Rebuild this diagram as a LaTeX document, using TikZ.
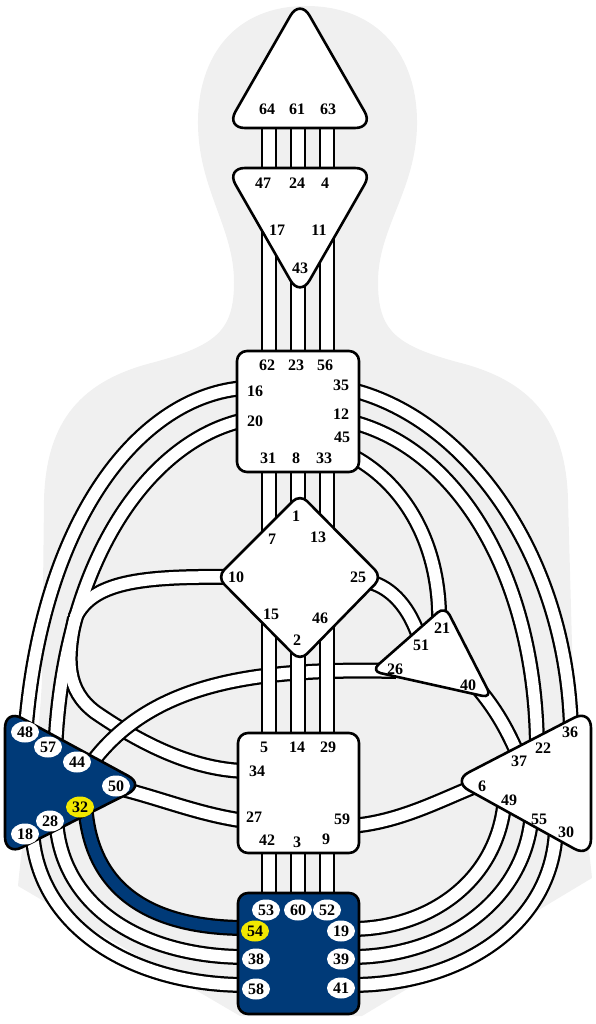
\documentclass[tikz,border=0pt]{standalone}
\usepackage{fontspec}
\setmainfont{Liberation Serif}
\usetikzlibrary{shapes.geometric}
\definecolor{bodygrey}{RGB}{240,240,240}
\definecolor{defblue}{RGB}{0,58,120}
\definecolor{gateyellow}{RGB}{242,232,0}
\tikzset{
  centre/.style={draw=black, line width=2.6pt, fill=white, rounded corners=10pt, line join=round},
  defcentre/.style={centre, fill=defblue},
  tricentre/.style={centre, rounded corners=19pt},
  chanedge/.style={draw=black, line width=16pt},
  chanfill/.style={draw=white, line width=11.5pt},
  chan/.style={chanfill, preaction={chanedge}},
  defchan/.style={draw=defblue, line width=11.5pt, preaction={chanedge}},
  gate/.style={font=\fontsize{16}{16}\selectfont\bfseries, inner sep=0pt},
  gateon/.style={gate, ellipse, fill=white, minimum width=28pt, minimum height=21pt},
  gateyel/.style={gateon, fill=gateyellow}
}
\begin{document}
\begin{tikzpicture}[x=1pt,y=-1pt]
\useasboundingbox (0,0) rectangle (596,1024);

% body
\fill[bodygrey] (306,6) .. controls (378,6) and (418,55) .. (417,125)
  .. controls (416,190) and (378,228) .. (378,282)
  .. controls (378,330) and (395,345) .. (457,362)
  .. controls (530,380) and (566,420) .. (568,500)
  -- (573,680) .. controls (576,760) and (586,820) .. (592,878)
  -- (362,1016) -- (240,1016) -- (18,886)
  .. controls (24,820) and (38,760) .. (42,680) -- (44,500)
  .. controls (46,420) and (82,380) .. (155,362)
  .. controls (217,345) and (234,330) .. (234,282)
  .. controls (234,228) and (199,190) .. (198,125)
  .. controls (197,55) and (236,6) .. (306,6) -- cycle;

% channel ends
\coordinate (p64) at (269,118); \coordinate (p61) at (298,118); \coordinate (p63) at (327,118);
\coordinate (p47) at (269,178); \coordinate (p24) at (298,178); \coordinate (p4) at (327,178);
\coordinate (p17) at (269,215); \coordinate (p43) at (298,275); \coordinate (p11) at (327,215);
\coordinate (p62) at (269,360); \coordinate (p23) at (298,360); \coordinate (p56) at (327,360);
\coordinate (p31) at (269,463); \coordinate (p8) at (298,463); \coordinate (p33) at (327,463);
\coordinate (p7) at (269,548); \coordinate (p1) at (298,505); \coordinate (p13) at (327,548);
\coordinate (p15) at (269,605); \coordinate (p2) at (298,648); \coordinate (p46) at (327,605);
\coordinate (p5) at (269,742); \coordinate (p14) at (298,742); \coordinate (p29) at (327,742);
\coordinate (p42) at (269,845); \coordinate (p3) at (298,845); \coordinate (p9) at (327,845);
\coordinate (p53) at (269,902); \coordinate (p60) at (298,902); \coordinate (p52) at (327,902);
\coordinate (p16) at (245,388); \coordinate (p20) at (245,420);
\coordinate (p35) at (352,390); \coordinate (p12) at (352,422); \coordinate (p45) at (350,455);
\coordinate (p10) at (230,577); \coordinate (p25) at (370,582);
\coordinate (p21) at (439,628); \coordinate (p51) at (420,640);
\coordinate (p26) at (396,671); \coordinate (p40) at (476,686);
\coordinate (p34) at (246,771); \coordinate (p27) at (246,821); \coordinate (p59) at (351,826);
\coordinate (p36) at (571,732); \coordinate (p22) at (537,752); \coordinate (p37) at (521,762);
\coordinate (p6) at (478,785); \coordinate (p49) at (505,796); \coordinate (p55) at (532,810);
\coordinate (p30) at (556,824);
\coordinate (p48) at (25,738); \coordinate (p57) at (55,754); \coordinate (p44) at (88,768);
\coordinate (p50) at (118,788); \coordinate (p32) at (85,800); \coordinate (p28) at (56,815);
\coordinate (p18) at (32,826);
\coordinate (p54) at (246,928); \coordinate (p38) at (246,957); \coordinate (p58) at (246,985);
\coordinate (p19) at (351,929); \coordinate (p39) at (351,957); \coordinate (p41) at (351,985);
\coordinate (jb) at (75,618);

% left arcs
\draw[chan] (p16) .. controls (140,395) and (40,520) .. (p48);
\draw[chanedge] (p20) .. controls (150,440) and (62,560) .. (p57);
\draw[chanedge] (p10) .. controls (140,576) and (92,582) .. (jb);
\draw[chanedge] (jb) .. controls (66,660) and (66,690) .. (95,712) .. controls (150,750) and (200,770) .. (p34);
\draw[chanfill] (p20) .. controls (150,440) and (62,560) .. (p57);
\draw[chanfill] (p10) .. controls (140,576) and (92,582) .. (jb);
\draw[chanfill] (jb) .. controls (66,660) and (66,690) .. (95,712) .. controls (150,750) and (200,770) .. (p34);
\draw[chan] (p26) .. controls (260,668) and (150,680) .. (p44);
\draw[chan] (p27) .. controls (200,815) and (160,798) .. (p50);

% right arcs
\draw[chan] (p35) .. controls (470,420) and (568,560) .. (p36);
\draw[chan] (p12) .. controls (460,450) and (537,580) .. (p22);
\draw[chan] (p45) .. controls (400,480) and (442,540) .. (p21);
\draw[chan] (p25) .. controls (392,588) and (410,608) .. (p51);
\draw[chan] (p40) .. controls (495,708) and (508,730) .. (p37);
\draw[chan] (p59) .. controls (400,822) and (440,800) .. (p6);

% root arcs
\draw[chan] (p49) .. controls (500,880) and (430,929) .. (p19);
\draw[chan] (p55) .. controls (528,900) and (445,957) .. (p39);
\draw[chan] (p30) .. controls (556,925) and (460,985) .. (p41);
\draw[chan] (p28) .. controls (58,905) and (140,957) .. (p38);
\draw[chan] (p18) .. controls (34,925) and (130,985) .. (p58);
\draw[defchan] (p32) .. controls (88,890) and (150,928) .. (p54);

% spine
\draw[chan] (p64) -- (p47);
\draw[chan] (p61) -- (p24);
\draw[chan] (p63) -- (p4);
\draw[chan] (p17) -- (p62);
\draw[chan] (p43) -- (p23);
\draw[chan] (p11) -- (p56);
\draw[chan] (p31) -- (p7);
\draw[chan] (p8) -- (p1);
\draw[chan] (p33) -- (p13);
\draw[chan] (p15) -- (p5);
\draw[chan] (p2) -- (p14);
\draw[chan] (p46) -- (p29);
\draw[chan] (p42) -- (p53);
\draw[chan] (p3) -- (p60);
\draw[chan] (p9) -- (p52);

% centres
\filldraw[tricentre] (300,-1) -- (374,128) -- (226,128) -- cycle;
\filldraw[tricentre] (226,168) -- (374,168) -- (300,297) -- cycle;
\filldraw[centre] (237,351) rectangle (359,472);
\filldraw[centre] (300,494) -- (382,577) -- (300,661) -- (217,577) -- cycle;
\filldraw[centre] (445,606) -- (492,698) -- (371,671) -- cycle;
\filldraw[centre] (238,733) rectangle (359,853);
\filldraw[tricentre] (452,781) -- (591,709) -- (591,858) -- cycle;
\filldraw[tricentre, fill=defblue] (5,709) -- (145,785) -- (5,856) -- cycle;
\filldraw[defcentre] (238,893) rectangle (359,1014);

% head, ajna
\node[gate] (n64) at (267,109) {64};
\node[gate] (n61) at (297,109) {61};
\node[gate] (n63) at (328,109) {63};
\node[gate] (n47) at (263,183) {47};
\node[gate] (n24) at (297,183) {24};
\node[gate] (n4) at (325,183) {4};
\node[gate] (n17) at (277,230) {17};
\node[gate] (n11) at (319,230) {11};
\node[gate] (n43) at (300,268) {43};
% throat
\node[gate] (n62) at (267,365) {62};
\node[gate] (n23) at (296,365) {23};
\node[gate] (n56) at (325,365) {56};
\node[gate] (n16) at (255,391) {16};
\node[gate] (n20) at (255,421) {20};
\node[gate] (n35) at (341,385) {35};
\node[gate] (n12) at (341,414) {12};
\node[gate] (n45) at (342,437) {45};
\node[gate] (n31) at (268,458) {31};
\node[gate] (n8) at (296,458) {8};
\node[gate] (n33) at (324,458) {33};
% g
\node[gate] (n1) at (296,516) {1};
\node[gate] (n7) at (272,539) {7};
\node[gate] (n13) at (318,537) {13};
\node[gate] (n10) at (236,577) {10};
\node[gate] (n25) at (358,577) {25};
\node[gate] (n15) at (271,614) {15};
\node[gate] (n46) at (320,618) {46};
\node[gate] (n2) at (297,640) {2};
% ego
\node[gate] (n21) at (442,628) {21};
\node[gate] (n51) at (421,645) {51};
\node[gate] (n26) at (395,669) {26};
\node[gate] (n40) at (468,685) {40};
% sacral
\node[gate] (n5) at (264,747) {5};
\node[gate] (n14) at (297,747) {14};
\node[gate] (n29) at (328,747) {29};
\node[gate] (n34) at (257,771) {34};
\node[gate] (n27) at (254,817) {27};
\node[gate] (n59) at (342,819) {59};
\node[gate] (n42) at (267,840) {42};
\node[gate] (n3) at (297,842) {3};
\node[gate] (n9) at (326,839) {9};
% solar plexus
\node[gate] (n36) at (570,732) {36};
\node[gate] (n22) at (543,748) {22};
\node[gate] (n37) at (519,761) {37};
\node[gate] (n6) at (482,786) {6};
\node[gate] (n49) at (509,800) {49};
\node[gate] (n55) at (539,819) {55};
\node[gate] (n30) at (566,832) {30};
% spleen
\node[gateon] (n48) at (25,732) {48};
\node[gateon] (n57) at (48,747) {57};
\node[gateon] (n44) at (77,762) {44};
\node[gateon] (n50) at (116,786) {50};
\node[gateyel] (n32) at (80,807) {32};
\node[gateon] (n28) at (50,821) {28};
\node[gateon] (n18) at (25,834) {18};
% root
\node[gateon] (n53) at (266,910) {53};
\node[gateon] (n60) at (298,910) {60};
\node[gateon] (n52) at (327,910) {52};
\node[gateyel] (n54) at (255,931) {54};
\node[gateon] (n38) at (256,959) {38};
\node[gateon] (n58) at (256,989) {58};
\node[gateon] (n19) at (341,931) {19};
\node[gateon] (n39) at (341,959) {39};
\node[gateon] (n41) at (341,988) {41};
\end{tikzpicture}
\end{document}
